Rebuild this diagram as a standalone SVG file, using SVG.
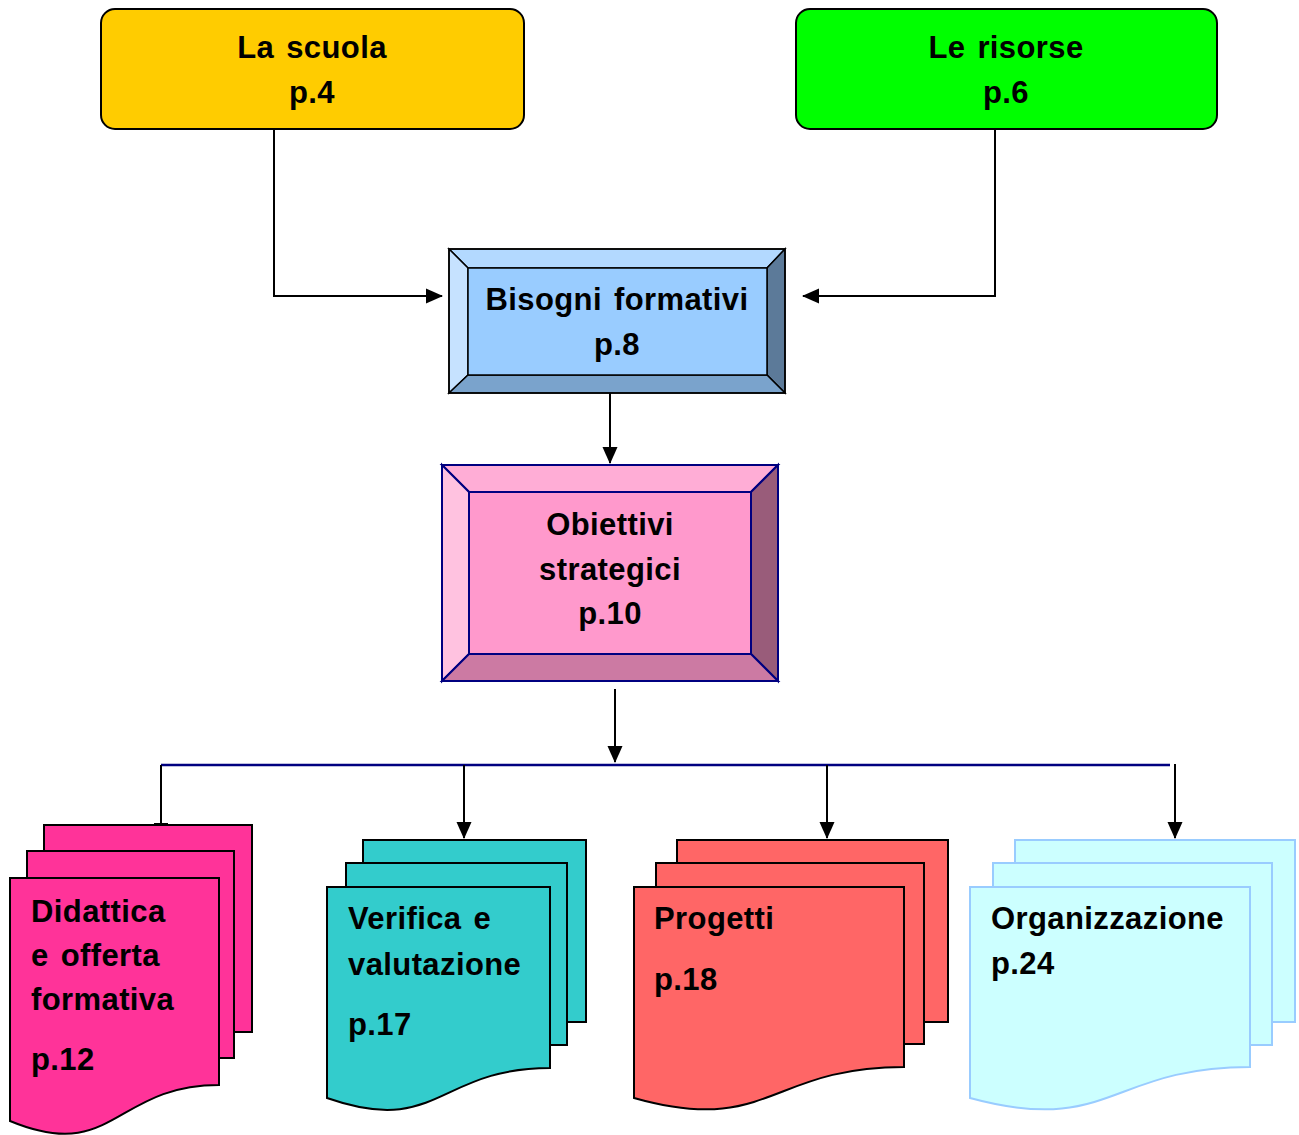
<svg xmlns="http://www.w3.org/2000/svg" width="1299" height="1135" viewBox="0 0 1299 1135">
<defs>
<style>
text{font-family:"Liberation Sans",Arial,sans-serif;font-weight:bold;font-size:31px;fill:#000;letter-spacing:0.4px;word-spacing:3px}
.c{text-anchor:middle}
.ln{stroke:#000;stroke-width:2;fill:none}
.bus{stroke:#000080;stroke-width:2.5;fill:none}
.sh{stroke:#000;stroke-width:2}
.bv{stroke:#000;stroke-width:1.5}
.bvn{stroke:#000080;stroke-width:2}
</style>
<marker id="ah" markerUnits="userSpaceOnUse" markerWidth="17" markerHeight="17" viewBox="0 0 17 17" refX="16" refY="8.5" orient="auto">
<path d="M0,1 L17,8.5 L0,16 Z" fill="#000"/>
</marker>
</defs>
<rect width="1299" height="1135" fill="#fff"/>

<g id="connectors">
<polyline class="ln" points="274,129 274,296 442,296" marker-end="url(#ah)"/>
<polyline class="ln" points="995,129 995,296 803,296" marker-end="url(#ah)"/>
<line class="ln" x1="610" y1="393" x2="610" y2="463" marker-end="url(#ah)"/>
<line class="ln" x1="615" y1="689" x2="615" y2="762" marker-end="url(#ah)"/>
<line class="bus" x1="161" y1="765" x2="1170" y2="765"/>
<line class="ln" x1="161" y1="765" x2="161" y2="825"/>
<line class="ln" x1="154" y1="824" x2="168" y2="824"/>
<line class="ln" x1="464" y1="765" x2="464" y2="838" marker-end="url(#ah)"/>
<line class="ln" x1="827" y1="765" x2="827" y2="838" marker-end="url(#ah)"/>
<line class="ln" x1="1175" y1="764" x2="1175" y2="838" marker-end="url(#ah)"/>
</g>

<g id="node-scuola">
<rect x="101" y="9" width="423" height="120" rx="14" fill="#FFCC00" class="sh"/>
<text class="c" x="312" y="58">La scuola</text>
<text class="c" x="312" y="103">p.4</text>
</g>

<g id="node-risorse">
<rect x="796" y="9" width="421" height="120" rx="14" fill="#00FF00" class="sh"/>
<text class="c" x="1006" y="58">Le risorse</text>
<text class="c" x="1006" y="103">p.6</text>
</g>

<g id="node-bisogni">
<rect x="449" y="249" width="336" height="144" fill="#99CCFF"/>
<polygon points="449,249 785,249 767,268 468,268" fill="#B3D9FF" class="bv"/>
<polygon points="449,249 468,268 468,375 449,393" fill="#C6E2FF" class="bv"/>
<polygon points="785,249 785,393 767,375 767,268" fill="#5C7A99" class="bv"/>
<polygon points="449,393 468,375 767,375 785,393" fill="#7AA3CC" class="bv"/>
<rect x="468" y="268" width="299" height="107" fill="#99CCFF" class="bv"/>
<rect x="449" y="249" width="336" height="144" fill="none" class="bv"/>
<text class="c" x="617" y="310">Bisogni formativi</text>
<text class="c" x="617" y="355">p.8</text>
</g>

<g id="node-obiettivi">
<polygon points="442,465 778,465 751,492 469,492" fill="#FFADD6" class="bvn"/>
<polygon points="442,465 469,492 469,654 442,681" fill="#FFC2E0" class="bvn"/>
<polygon points="778,465 778,681 751,654 751,492" fill="#995C7A" class="bvn"/>
<polygon points="442,681 469,654 751,654 778,681" fill="#CC7AA3" class="bvn"/>
<rect x="469" y="492" width="282" height="162" fill="#FF99CC" class="bvn"/>
<rect x="442" y="465" width="336" height="216" fill="none" class="bvn"/>
<text class="c" x="610" y="535">Obiettivi</text>
<text class="c" x="610" y="580">strategici</text>
<text class="c" x="610" y="624">p.10</text>
</g>

<g id="node-didattica" fill="#FF3399" class="sh">
<path d="M44,825 H252 V1032 H44 Z"/>
<path d="M27,851 H234 V1058 H27 Z"/>
<path d="M10,878 H219 V1085 C114,1085 114,1164 10,1121 Z"/>
<text x="31" y="922" stroke="none">Didattica</text>
<text x="31" y="966" stroke="none">e offerta</text>
<text x="31" y="1010" stroke="none">formativa</text>
<text x="31" y="1070" stroke="none">p.12</text>
</g>

<g id="node-verifica" fill="#33CCCC" class="sh">
<path d="M363,840 H586 V1022 H363 Z"/>
<path d="M346,863 H567 V1045 H346 Z"/>
<path d="M327,887 H550 V1068 C438,1068 438,1137 327,1098 Z"/>
<text x="348" y="929" stroke="none">Verifica e</text>
<text x="348" y="975" stroke="none">valutazione</text>
<text x="348" y="1035" stroke="none">p.17</text>
</g>

<g id="node-progetti" fill="#FF6666" class="sh">
<path d="M677,840 H948 V1022 H677 Z"/>
<path d="M656,863 H924 V1044 H656 Z"/>
<path d="M634,887 H904 V1067 C769,1067 769,1136 634,1098 Z"/>
<text x="654" y="929" stroke="none">Progetti</text>
<text x="654" y="990" stroke="none">p.18</text>
</g>

<g id="node-organizzazione" fill="#CCFFFF" stroke="#99CCFF" stroke-width="2">
<path d="M1015,840 H1295 V1022 H1015 Z"/>
<path d="M993,863 H1272 V1045 H993 Z"/>
<path d="M970,887 H1250 V1067 C1110,1067 1110,1136 970,1098 Z"/>
<text x="991" y="929" stroke="none">Organizzazione</text>
<text x="991" y="974" stroke="none">p.24</text>
</g>
</svg>
